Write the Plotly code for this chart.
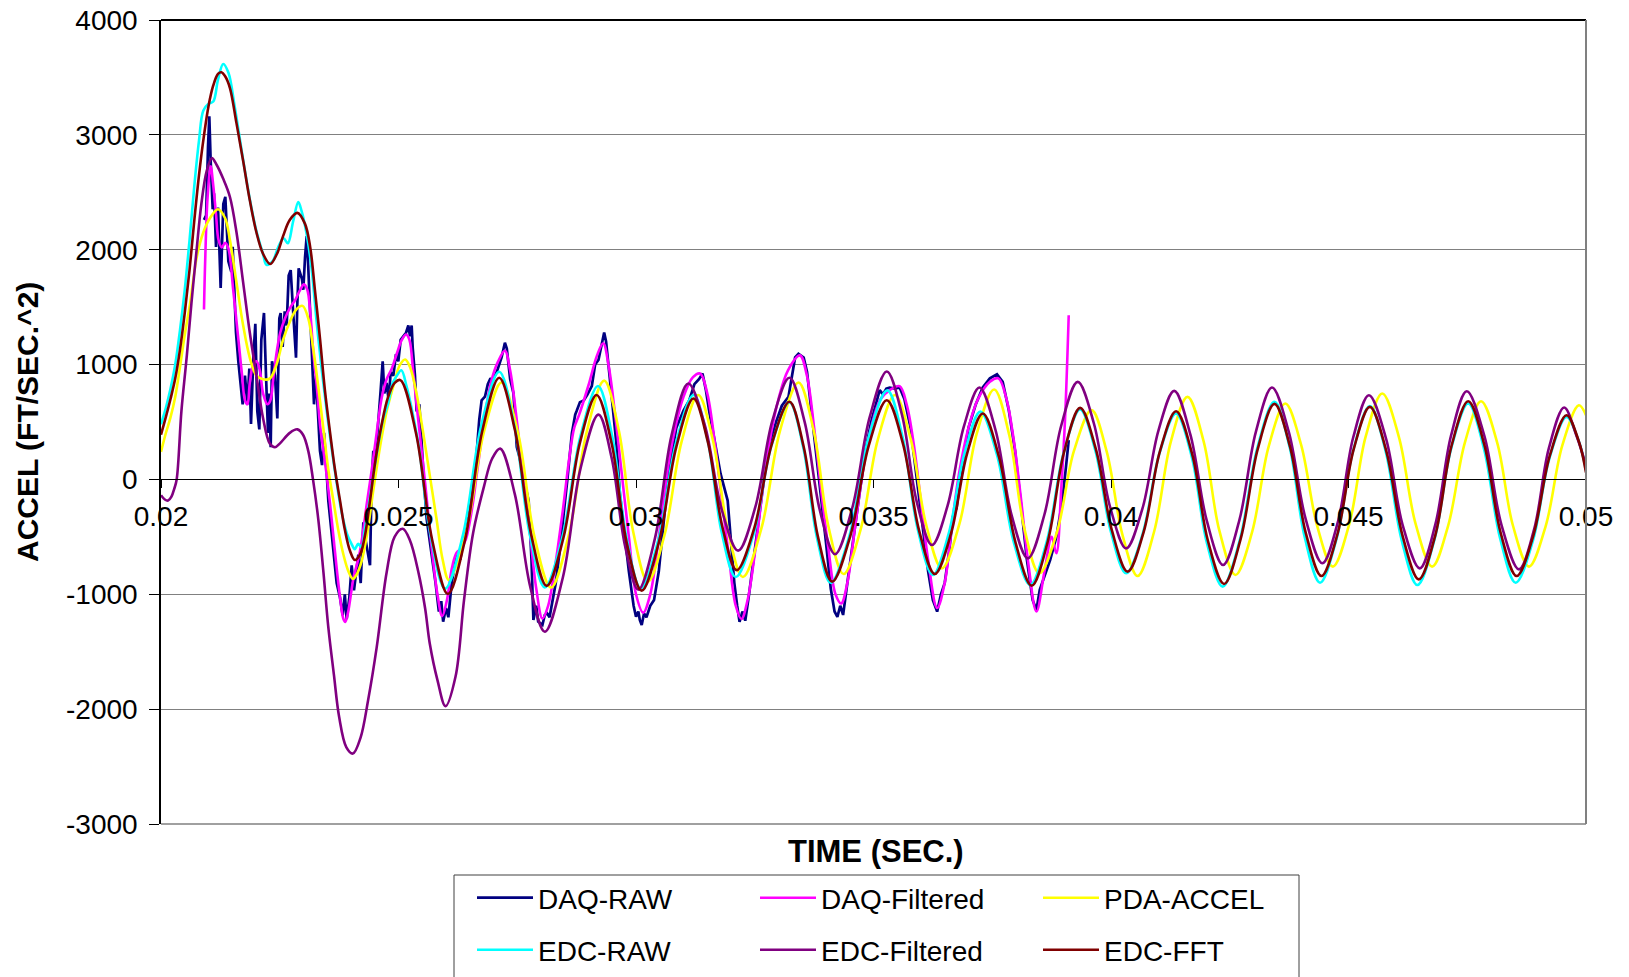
import plotly.graph_objects as go

# ---------------- data (time in s, accel in ft/s^2) ----------------
x_ticks = [0.02, 0.025, 0.03, 0.035, 0.04, 0.045, 0.05]
x_tick_text = ["0.02", "0.025", "0.03", "0.035", "0.04", "0.045", "0.05"]
y_ticks = [-3000, -2000, -1000, 0, 1000, 2000, 3000, 4000]
y_tick_text = ["-3000", "-2000", "-1000", "0", "1000", "2000", "3000", "4000"]

daq_raw = [
    (0.020905, 2260), (0.02095, 2300), (0.02099, 2900), (0.021017, 3162), (0.021046, 2773),
    (0.021088, 2352), (0.021116, 2492), (0.021158, 2025), (0.0212, 2368), (0.021256, 1667),
    (0.021312, 2399), (0.021354, 2461), (0.021418, 1900), (0.021481, 1807), (0.021509, 2025),
    (0.021579, 1277), (0.021628, 1028), (0.021663, 903), (0.021719, 654), (0.021768, 903),
    (0.021818, 654), (0.02186, 966), (0.021895, 483), (0.021944, 1059), (0.021986, 1355),
    (0.022028, 592), (0.02207, 436), (0.022112, 1215), (0.022168, 1449), (0.022211, 903),
    (0.022253, 405), (0.022281, 748), (0.022309, 280), (0.022337, 1028), (0.0224, 903),
    (0.022449, 530), (0.022491, 1402), (0.022519, 1449), (0.022561, 1153), (0.022604, 1464),
    (0.022646, 1340), (0.022688, 1776), (0.02273, 1822), (0.022772, 1527), (0.022807, 1246),
    (0.022842, 1059), (0.02287, 1527), (0.022898, 1838), (0.022968, 1745), (0.022996, 1651),
    (0.023032, 1931), (0.023067, 2118), (0.023095, 1900), (0.023172, 1215), (0.023221, 654),
    (0.023263, 903), (0.023305, 592), (0.023347, 249), (0.02339, 125), (0.023432, 405),
    (0.023474, 156), (0.023523, -187), (0.0236, -500), (0.023698, -903), (0.023768, -1028),
    (0.023825, -1184), (0.02387, -1000), (0.023909, -1215), (0.023965, -1028), (0.024014, -748),
    (0.024063, -966), (0.024154, -654), (0.024204, -903), (0.02426, -374), (0.024295, -498),
    (0.02433, -592), (0.0244, -748), (0.024435, -31), (0.02447, 249), (0.024505, 125),
    (0.02454, 343), (0.02459, 592), (0.024625, 779), (0.024667, 1028), (0.024702, 748),
    (0.024751, 841), (0.024793, 685), (0.024835, 935), (0.024891, 903), (0.024947, 1090),
    (0.024996, 1028), (0.025046, 1215), (0.025102, 1246), (0.025158, 1277), (0.025207, 1340),
    (0.025242, 1246), (0.025277, 1340), (0.025298, 1153), (0.025347, 903), (0.025382, 592),
    (0.025439, 654), (0.025488, 280), (0.025537, -31), (0.025593, -343),
    (0.0257, -650), (0.02578, -900), (0.02585, -1150), (0.0259, -1060), (0.02594, -1238),
    (0.026, -1120), (0.02605, -1200), (0.02612, -900), (0.02618, -760), (0.02624, -640),
    (0.0263, -700), (0.02637, -520), (0.02645, -380), (0.02655, -100), (0.02663, 150),
    (0.0267, 520), (0.02675, 688), (0.02682, 720), (0.02688, 830), (0.02693, 875),
    (0.027, 880), (0.02707, 938), (0.02712, 1000), (0.02717, 1062), (0.02724, 1190),
    (0.02728, 1140), (0.02735, 875), (0.02742, 750), (0.02749, 283), (0.02755, 190),
    (0.02762, 40), (0.02774, -184), (0.0278, -700), (0.02784, -1224), (0.0279, -1100),
    (0.02794, -1238), (0.02803, -1267), (0.02808, -1180), (0.02813, -1166), (0.02818, -1200),
    (0.02822, -1108), (0.02831, -904), (0.0284, -600), (0.02848, -300), (0.02856, 19),
    (0.02865, 400), (0.02872, 564), (0.02875, 595), (0.02882, 673), (0.0289, 688),
    (0.02898, 740), (0.02907, 813), (0.02914, 1000), (0.02921, 1040), (0.02928, 1187),
    (0.02933, 1280), (0.02937, 1202), (0.02944, 907), (0.02952, 595), (0.02959, 300),
    (0.02966, -121), (0.02975, -450), (0.02985, -800), (0.02995, -1100), (0.03, -1195),
    (0.03005, -1150), (0.03008, -1224), (0.03012, -1267), (0.03017, -1166), (0.03022, -1200),
    (0.0303, -1100), (0.03038, -1049), (0.03048, -800), (0.0306, -300), (0.03072, 150),
    (0.03085, 450), (0.031, 600), (0.03112, 688), (0.03123, 829), (0.03133, 875),
    (0.0314, 922), (0.03147, 782), (0.03154, 595), (0.03165, 350), (0.03178, 50),
    (0.03193, -184), (0.032, -550), (0.03207, -900), (0.03213, -1100), (0.03218, -1240),
    (0.03224, -1150), (0.0323, -1230), (0.03238, -1000), (0.03248, -700), (0.0326, -300),
    (0.03272, 100), (0.03285, 350), (0.03295, 500), (0.03307, 642), (0.03321, 720),
    (0.03328, 900), (0.03335, 1062), (0.03342, 1093), (0.03353, 1062), (0.0336, 938),
    (0.03367, 688), (0.03377, 283), (0.03388, -100), (0.034, -550), (0.0341, -950),
    (0.03418, -1150), (0.03424, -1196), (0.0343, -1100), (0.03436, -1180), (0.03445, -900),
    (0.03458, -500), (0.0347, -150), (0.03483, 250), (0.03495, 500), (0.03505, 650),
    (0.03513, 777), (0.0352, 740), (0.03527, 790), (0.03534, 800), (0.03545, 790),
    (0.03555, 800), (0.03565, 700), (0.03578, 450), (0.0359, 50), (0.03603, -400),
    (0.03615, -800), (0.03625, -1050), (0.03634, -1151), (0.03642, -1000), (0.0365, -900),
    (0.0366, -600), (0.03667, -325), (0.03675, -250), (0.03685, 100), (0.037, 450),
    (0.03715, 650), (0.0373, 800), (0.03745, 880), (0.0376, 916), (0.03772, 850),
    (0.03785, 600), (0.03798, 250), (0.0381, -200), (0.03823, -700), (0.03835, -1050),
    (0.03843, -1136), (0.0385, -962), (0.0386, -850), (0.03872, -700), (0.03885, -500),
    (0.03897, -200), (0.03905, 100), (0.03911, 342),
]

daq_filtered = [
    (0.020905, 1480), (0.02093, 1900), (0.02098, 2450), (0.021046, 2726), (0.0211, 2560),
    (0.02116, 2300), (0.02121, 2087), (0.02128, 2020), (0.02135, 2060), (0.02142, 2010),
    (0.02152, 1651), (0.02163, 1215), (0.0217, 935), (0.02177, 685), (0.02182, 654),
    (0.02187, 841), (0.02194, 997), (0.02201, 1028), (0.02208, 950), (0.02215, 748),
    (0.02224, 654), (0.0223, 685), (0.02237, 903), (0.02244, 1121), (0.02251, 1277),
    (0.02261, 1402), (0.02272, 1495), (0.02282, 1558), (0.02293, 1651), (0.02301, 1698),
    (0.02308, 1651), (0.02314, 1464), (0.02321, 1090), (0.02328, 810), (0.02335, 467),
    (0.02342, 249), (0.02349, 31), (0.02356, -218), (0.02363, -498), (0.0237, -779),
    (0.02377, -1028), (0.02384, -1215), (0.02388, -1240), (0.02394, -1153), (0.02401, -966),
    (0.02406, -841), (0.02412, -748), (0.02419, -623), (0.02426, -436), (0.02433, -218),
    (0.02444, 93), (0.02454, 405), (0.02465, 717), (0.02475, 872), (0.02486, 966),
    (0.02496, 1090), (0.02507, 1215), (0.02516, 1262), (0.02523, 1215), (0.02531, 935),
    (0.02538, 654), (0.02547, 312), (0.02556, -31),
    (0.0257, -600), (0.02582, -1000), (0.02592, -1190), (0.02602, -1050), (0.02612, -780),
    (0.02622, -640), (0.02632, -600), (0.02642, -520), (0.02655, -250), (0.02665, 50),
    (0.0268, 500), (0.02695, 850), (0.0271, 1030), (0.02724, 1120), (0.02735, 950),
    (0.02748, 550), (0.0276, 100), (0.02775, -400), (0.0279, -950), (0.02803, -1210),
    (0.02815, -1100), (0.02828, -800), (0.02845, -300), (0.0286, 200), (0.0287, 450),
    (0.0288, 560), (0.029, 820), (0.02918, 1080), (0.02931, 1185), (0.02942, 1000),
    (0.02955, 600), (0.0297, 50), (0.02985, -500), (0.03, -1000), (0.03015, -1160),
    (0.0303, -1000), (0.03045, -600), (0.0306, -100), (0.0308, 400), (0.031, 720),
    (0.0312, 890), (0.03135, 922), (0.0315, 750), (0.03165, 350), (0.0318, -150),
    (0.03195, -650), (0.0321, -1100), (0.03222, -1215), (0.03235, -1050), (0.0325, -650),
    (0.03265, -150), (0.0328, 300), (0.033, 700), (0.0332, 950), (0.03345, 1080),
    (0.0336, 900), (0.03375, 450), (0.0339, -100), (0.03405, -600), (0.0342, -1000),
    (0.03432, -1080), (0.03445, -900), (0.0346, -450), (0.03475, 0), (0.03495, 450),
    (0.03515, 700), (0.03535, 780), (0.03555, 812), (0.0357, 650), (0.03585, 300),
    (0.036, -200), (0.03615, -700), (0.03634, -1120), (0.0365, -900), (0.03665, -400),
    (0.0368, 50), (0.037, 450), (0.0372, 700), (0.03745, 850), (0.03763, 880),
    (0.0378, 700), (0.03795, 350), (0.0381, -150), (0.03825, -700), (0.03843, -1150),
    (0.0386, -800), (0.03875, -500), (0.03885, -643), (0.03895, -100), (0.03903, 500),
    (0.03911, 1430),
]

pda_accel = [
    (0.02, 240), (0.0201, 400), (0.0202, 540), (0.0203, 720), (0.0204, 980), (0.0205, 1260),
    (0.02061, 1526), (0.02075, 1931), (0.02089, 2150), (0.02103, 2274), (0.0212, 2352),
    (0.02135, 2274), (0.02145, 2087), (0.02159, 1713), (0.02173, 1340), (0.02187, 1059),
    (0.02201, 903), (0.02215, 872), (0.02229, 878), (0.02243, 997), (0.02257, 1215),
    (0.02271, 1371), (0.02285, 1480), (0.02298, 1511), (0.0231, 1402), (0.0232, 1153),
    (0.02331, 810), (0.02342, 436), (0.02352, 93), (0.02363, -187), (0.02373, -436),
    (0.02384, -654), (0.02394, -794), (0.02404, -866), (0.02412, -826), (0.02422, -717),
    (0.02433, -498), (0.02447, -93), (0.02461, 280), (0.02475, 592), (0.02489, 810),
    (0.02503, 997), (0.02514, 1044), (0.02524, 981), (0.02538, 748), (0.02552, 405),
    (0.02566, 31), (0.0258, -343), (0.02593, -700), (0.02606, -875),
    (0.02643, -445), (0.0268, 415), (0.02717, 845), (0.02752, 398), (0.02786, -495),
    (0.02821, -942), (0.02858, -492), (0.02896, 410), (0.02933, 860), (0.02964, 423),
    (0.02994, -453), (0.03025, -890), (0.0306, -484), (0.03096, 329), (0.03131, 735),
    (0.03162, 339), (0.03194, -454), (0.03225, -850), (0.03264, -427), (0.03303, 421),
    (0.03342, 844), (0.03374, 427), (0.03405, -407), (0.03437, -824), (0.03473, -434),
    (0.03509, 345), (0.03545, 735), (0.03578, 358), (0.03611, -397), (0.03644, -774),
    (0.03681, -385), (0.03717, 394), (0.03754, 783), (0.03786, 383), (0.03817, -417),
    (0.03849, -817), (0.03886, -462), (0.03922, 248), (0.03959, 603), (0.03991, 242),
    (0.04024, -480), (0.04056, -841), (0.04091, -451), (0.04126, 329), (0.04161, 719),
    (0.04195, 331), (0.04228, -444), (0.04262, -832), (0.04297, -459), (0.04332, 288),
    (0.04367, 661), (0.044, 306), (0.04434, -404), (0.04467, -759), (0.04502, -382),
    (0.04536, 371), (0.04571, 748), (0.04606, 371), (0.04641, -382), (0.04676, -759),
    (0.0471, -399), (0.04745, 321), (0.04779, 681), (0.04813, 321), (0.04846, -399),
    (0.0488, -759), (0.04915, -408), (0.0495, 295), (0.04985, 646), (0.05, 560),
]

edc_raw = [
    (0.02, 480), (0.0201, 620), (0.0202, 790), (0.0203, 1000), (0.0204, 1300), (0.0205, 1650),
    (0.0206, 2080), (0.0207, 2550), (0.0208, 2950), (0.02089, 3209), (0.021, 3270),
    (0.0211, 3290), (0.0212, 3480), (0.02131, 3617), (0.02142, 3540), (0.02155, 3250),
    (0.02173, 2780), (0.02187, 2440), (0.02201, 2160), (0.02215, 1960), (0.02222, 1869),
    (0.02235, 1900), (0.02247, 2025), (0.02258, 2100), (0.02267, 2056), (0.02278, 2243),
    (0.02289, 2414), (0.02296, 2336), (0.02306, 2150), (0.02317, 1838), (0.02327, 1402),
    (0.02338, 966), (0.02349, 592), (0.02359, 280), (0.0237, -31), (0.0238, -280),
    (0.02391, -467), (0.02401, -561), (0.02408, -607), (0.02415, -560), (0.02422, -590),
    (0.02429, -436), (0.0244, -156), (0.02454, 218), (0.02468, 530), (0.02478, 660),
    (0.02488, 841), (0.02496, 900), (0.02506, 950), (0.02517, 810), (0.02529, 592),
    (0.02543, 280), (0.02567, -475), (0.02598, -950),
    (0.02636, -478), (0.02674, 466), (0.02712, 938), (0.02744, 468), (0.02776, -470),
    (0.02808, -940), (0.02845, -502), (0.02883, 375), (0.0292, 813), (0.0295, 373),
    (0.0298, -508), (0.0301, -948), (0.03047, -527), (0.03084, 314), (0.03121, 735),
    (0.03151, 339), (0.0318, -454), (0.0321, -850), (0.03248, -469), (0.03285, 292),
    (0.03323, 673), (0.03352, 280), (0.03381, -507), (0.0341, -900), (0.0345, -481),
    (0.03489, 356), (0.03529, 775), (0.03561, 373), (0.03593, -430), (0.03625, -832),
    (0.03658, -476), (0.03692, 234), (0.03725, 590), (0.0376, 213), (0.03795, -542),
    (0.0383, -919), (0.03865, -537), (0.039, 228), (0.03935, 610), (0.03967, 253),
    (0.04, -460), (0.04032, -817), (0.04067, -469), (0.04102, 226), (0.04137, 574),
    (0.0417, 197), (0.04202, -556), (0.04235, -933), (0.04271, -531), (0.04308, 273),
    (0.04344, 675), (0.04376, 282), (0.04408, -506), (0.0444, -899), (0.04475, -515),
    (0.0451, 254), (0.04545, 638), (0.04578, 249), (0.04612, -530), (0.04645, -919),
    (0.04681, -524), (0.04716, 266), (0.04752, 661), (0.04785, 271), (0.04819, -509),
    (0.04852, -899), (0.04888, -538), (0.04923, 184), (0.04959, 545), (0.04985, 330),
    (0.05, 80),
]

edc_filtered = [
    (0.02, -137), (0.02008, -175), (0.02015, -184), (0.02022, -150), (0.02028, -80),
    (0.02033, 0), (0.02043, 595), (0.02054, 1062), (0.02064, 1530), (0.02075, 2000),
    (0.02085, 2400), (0.02096, 2682), (0.02107, 2797), (0.02117, 2740), (0.02131, 2617),
    (0.02145, 2461), (0.02159, 2150), (0.02173, 1713), (0.02187, 1277), (0.02201, 903),
    (0.02215, 530), (0.02229, 312), (0.0224, 280), (0.0225, 312), (0.02271, 405),
    (0.02287, 436), (0.02299, 389), (0.0231, 249), (0.0232, 0), (0.02331, -343),
    (0.02342, -810), (0.02352, -1277), (0.02364, -1700), (0.02375, -2067), (0.0239, -2330),
    (0.02404, -2387), (0.0242, -2250), (0.02436, -1922), (0.02454, -1464), (0.02475, -810),
    (0.02492, -498), (0.02509, -430), (0.02524, -530), (0.02542, -810), (0.02556, -1121),
    (0.02566, -1433), (0.02582, -1747), (0.02599, -1974), (0.0262, -1718), (0.02638, -1049),
    (0.02657, -468), (0.0268, -60), (0.02697, 180), (0.02714, 268),
    (0.02745, -130), (0.02777, -928), (0.02808, -1326), (0.02846, -854), (0.02883, 92),
    (0.02921, 564), (0.02949, 183), (0.02977, -579), (0.03005, -960), (0.0304, -511),
    (0.03075, 386), (0.0311, 835), (0.03145, 471), (0.0318, -256), (0.03215, -620),
    (0.03251, -244), (0.03287, 509), (0.03323, 885), (0.03355, 501), (0.03387, -267),
    (0.03419, -651), (0.03455, -253), (0.03492, 542), (0.03528, 940), (0.0356, 562),
    (0.03591, -193), (0.03623, -571), (0.03656, -228), (0.0369, 457), (0.03723, 800),
    (0.03757, 428), (0.03791, -315), (0.03825, -687), (0.0386, -303), (0.03895, 465),
    (0.0393, 849), (0.03964, 487), (0.03998, -238), (0.04032, -600), (0.04066, -257),
    (0.041, 428), (0.04133, 771), (0.04167, 392), (0.04202, -366), (0.04236, -745),
    (0.0427, -359), (0.04305, 414), (0.04339, 800), (0.04374, 418), (0.0441, -348),
    (0.04445, -730), (0.04478, -364), (0.0451, 367), (0.04543, 733), (0.04579, 356),
    (0.04614, -397), (0.0465, -774), (0.04683, -389), (0.04716, 383), (0.04749, 768),
    (0.04786, 380), (0.04822, -395), (0.04859, -783), (0.04891, -431), (0.04922, 274),
    (0.04954, 626), (0.0498, 380), (0.05, 120),
]

edc_fft = [
    (0.02, 390), (0.0201, 540), (0.0202, 700), (0.0203, 880), (0.0204, 1130), (0.0205, 1450),
    (0.0206, 1820), (0.0207, 2250), (0.0208, 2650), (0.0209, 2980), (0.021, 3250),
    (0.0211, 3430), (0.0212, 3530), (0.02127, 3545), (0.02135, 3510), (0.02145, 3410),
    (0.02159, 3100), (0.02173, 2773), (0.02187, 2430), (0.02201, 2150), (0.02215, 1963),
    (0.0223, 1875), (0.02244, 1963), (0.02257, 2118), (0.02271, 2259), (0.02287, 2321),
    (0.02303, 2227), (0.02314, 2025), (0.02324, 1651), (0.02335, 1215), (0.02345, 779),
    (0.02356, 405), (0.02366, 93), (0.02377, -187), (0.02387, -436), (0.02398, -623),
    (0.02408, -701), (0.02419, -654), (0.02429, -498), (0.0244, -187), (0.0245, 125),
    (0.02464, 467), (0.02478, 717), (0.02492, 841), (0.02504, 865),
    (0.02537, 400), (0.02571, -530), (0.02604, -997), (0.0264, -527), (0.02676, 415),
    (0.02712, 885), (0.02745, 432), (0.02779, -474), (0.02812, -927), (0.02847, -512),
    (0.02882, 320), (0.02917, 735), (0.02949, 309), (0.0298, -542), (0.03012, -968),
    (0.03048, -550), (0.03085, 286), (0.03121, 704), (0.03151, 330), (0.03182, -416),
    (0.03212, -790), (0.03249, -424), (0.03286, 310), (0.03323, 676), (0.03353, 285),
    (0.03383, -498), (0.03413, -890), (0.03451, -495), (0.0349, 295), (0.03528, 690),
    (0.03562, 312), (0.03596, -445), (0.03629, -823), (0.03663, -474), (0.03697, 225),
    (0.0373, 574), (0.03764, 199), (0.03799, -550), (0.03833, -925), (0.03867, -538),
    (0.03901, 236), (0.03935, 623), (0.03968, 266), (0.04002, -446), (0.04035, -803),
    (0.04069, -454), (0.04103, 245), (0.04137, 594), (0.04171, 218), (0.04204, -534),
    (0.04238, -910), (0.04273, -518), (0.04309, 266), (0.04344, 658), (0.04377, 283),
    (0.0441, -466), (0.04443, -841), (0.04477, -473), (0.04511, 264), (0.04545, 632),
    (0.04579, 256), (0.04614, -494), (0.04648, -870), (0.04683, -482), (0.04717, 293),
    (0.04752, 681), (0.04786, 300), (0.0482, -460), (0.04854, -841), (0.04889, -491),
    (0.04924, 209), (0.04959, 559), (0.04985, 330), (0.05, 60),
]

series_names = ["DAQ-RAW", "DAQ-Filtered", "PDA-ACCEL", "EDC-RAW", "EDC-Filtered", "EDC-FFT"]
series_data = [daq_raw, daq_filtered, pda_accel, edc_raw, edc_filtered, edc_fft]
series_colors = ["#000080", "#FF00FF", "#FFFF00", "#00FFFF", "#800080", "#800000"]
series_shapes = ["linear", "spline", "spline", "spline", "spline", "spline"]

# ---------------- figure ----------------
W, H = 1629, 977
ML, MR, MT, MB = 161, 43, 20, 153
PW, PH = W - ML - MR, H - MT - MB
FONT = "Liberation Sans, Arial, Helvetica, sans-serif"


def px_x(px):
    return (px - ML) / PW


def px_y(py):
    return (H - MB - py) / PH


fig = go.Figure()
for i, (name, data, color, shape) in enumerate(zip(series_names, series_data, series_colors, series_shapes)):
    ts = [p[0] for p in data]
    vs = [p[1] for p in data]
    fig.add_trace(go.Scatter(
        x=ts, y=vs, mode="lines", name=name,
        line=dict(color=color, width=2.7 if i == 0 else 2.6, shape=shape),
        legend="legend" if i < 3 else "legend2",
        hoverinfo="skip",
    ))

y_lo, y_hi = -3000, 4000
fig.update_layout(
    width=W, height=H,
    margin=dict(l=ML, r=MR, t=MT, b=MB, autoexpand=False),
    paper_bgcolor="white", plot_bgcolor="white",
    font=dict(family=FONT, size=28, color="black"),
    showlegend=True,
    xaxis=dict(
        range=[0.02, 0.05], tickvals=x_ticks, ticktext=x_tick_text,
        anchor="free", position=(0 - y_lo) / (y_hi - y_lo),
        showline=True, linecolor="black", linewidth=1,
        ticks="outside", ticklen=8, tickcolor="black", tickwidth=1,
        ticklabelstandoff=4,
        showgrid=False, zeroline=False,
        tickfont=dict(family=FONT, size=28, color="black"),
    ),
    yaxis=dict(
        range=[y_lo, y_hi], tickvals=y_ticks, ticktext=y_tick_text,
        showgrid=True, gridcolor="#808080", gridwidth=1,
        zeroline=True, zerolinecolor="black", zerolinewidth=1,
        showline=True, linecolor="black", linewidth=1.5,
        ticks="outside", ticklen=10, tickcolor="black", tickwidth=1,
        ticklabelstandoff=6,
        tickfont=dict(family=FONT, size=28, color="black"),
    ),
    legend=dict(
        orientation="h", x=px_x(472), xanchor="left", y=px_y(898), yanchor="middle",
        entrywidth=212, entrywidthmode="pixels", itemwidth=56,
        font=dict(family=FONT, size=28, color="black"),
        bgcolor="rgba(0,0,0,0)", borderwidth=0, traceorder="normal",
    ),
    legend2=dict(
        orientation="h", x=px_x(472), xanchor="left", y=px_y(950), yanchor="middle",
        entrywidth=212, entrywidthmode="pixels", itemwidth=56,
        font=dict(family=FONT, size=28, color="black"),
        bgcolor="rgba(0,0,0,0)", borderwidth=0, traceorder="normal",
    ),
    shapes=[
        dict(type="line", xref="paper", yref="paper", x0=0, x1=1, y0=1, y1=1,
             line=dict(color="black", width=2)),
        dict(type="line", xref="paper", yref="paper", x0=1, x1=1, y0=0, y1=1,
             line=dict(color="#808080", width=2)),
        dict(type="line", xref="paper", yref="paper", x0=0, x1=1, y0=0, y1=0,
             line=dict(color="#808080", width=1.5)),
        dict(type="rect", xref="paper", yref="paper",
             x0=px_x(454), x1=px_x(1299), y0=px_y(875), y1=px_y(995),
             line=dict(color="#404040", width=1), fillcolor="rgba(0,0,0,0)"),
    ],
    annotations=[
        dict(text="<b>TIME (SEC.)</b>", xref="paper", yref="paper",
             x=px_x(876), y=px_y(851), xanchor="center", yanchor="middle",
             showarrow=False, font=dict(family=FONT, size=31, color="black")),
        dict(text="<b>ACCEL (FT/SEC.^2)</b>", xref="paper", yref="paper",
             x=px_x(27), y=px_y(422), xanchor="center", yanchor="middle",
             textangle=-90, showarrow=False, font=dict(family=FONT, size=30, color="black")),
    ],
)

fig.write_html("out.html")
